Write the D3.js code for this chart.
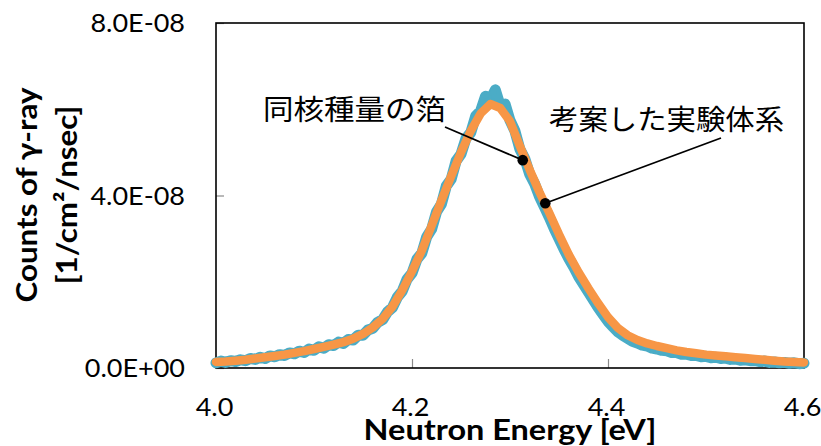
<!DOCTYPE html>
<html>
<head>
<meta charset="utf-8">
<script src="https://cdn.jsdelivr.net/npm/d3@7"></script>
<style>
  body { margin: 0; background: #fff; }
  svg { display: block; }
</style>
</head>
<body>
<script>
// y values are stored in units of 1E-08
var UNIT = 1e-8;

var xTicks = [4.0, 4.2, 4.4, 4.6];
var yTicks = [0, 4e-8, 8e-8];

// blue scatter [energy, counts]
var scatterData = [
  [4.000,0.12],[4.005,0.16],[4.010,0.13],[4.015,0.17],[4.020,0.15],[4.025,0.19],[4.030,0.17],[4.035,0.22],
  [4.040,0.20],[4.045,0.25],[4.050,0.22],[4.055,0.28],[4.060,0.26],[4.065,0.31],[4.070,0.29],[4.075,0.35],
  [4.080,0.33],[4.085,0.39],[4.090,0.36],[4.095,0.44],[4.100,0.41],[4.105,0.49],[4.110,0.46],[4.115,0.54],
  [4.120,0.52],[4.125,0.60],[4.130,0.57],[4.135,0.66],[4.140,0.65],[4.145,0.76],[4.150,0.76],[4.155,0.88],
  [4.160,0.92],[4.165,1.06],[4.170,1.12],[4.175,1.30],[4.180,1.40],[4.185,1.64],[4.190,1.78],[4.195,2.06],
  [4.200,2.20],[4.205,2.52],[4.210,2.66],[4.215,3.04],[4.220,3.22],[4.225,3.62],[4.230,3.80],[4.235,4.22],
  [4.240,4.38],[4.245,4.80],[4.250,4.96],[4.255,5.32],[4.260,5.46],[4.265,5.84],[4.270,5.96],[4.275,6.30],
  [4.280,6.22],[4.285,6.45],[4.290,6.08],[4.295,6.12],[4.300,5.74],[4.305,5.50],[4.310,5.08],[4.315,4.86],
  [4.320,4.50],[4.325,4.28],[4.330,3.98],[4.335,3.74],[4.340,3.50],[4.345,3.24],[4.350,3.00],[4.355,2.76],
  [4.360,2.54],[4.365,2.34],[4.370,2.12],[4.375,1.94],[4.380,1.76],[4.385,1.58],[4.390,1.40],[4.395,1.24],
  [4.400,1.08],[4.405,0.96],[4.410,0.84],[4.415,0.76],[4.420,0.69],[4.425,0.62],[4.430,0.58],[4.435,0.53],
  [4.440,0.51],[4.445,0.46],[4.450,0.44],[4.455,0.41],[4.460,0.40],[4.465,0.36],[4.470,0.36],[4.475,0.32],
  [4.480,0.32],[4.485,0.29],[4.490,0.29],[4.495,0.26],[4.500,0.27],[4.505,0.24],[4.510,0.25],[4.515,0.22],
  [4.520,0.23],[4.525,0.20],[4.530,0.21],[4.535,0.18],[4.540,0.19],[4.545,0.17],[4.550,0.17],[4.555,0.15],
  [4.560,0.16],[4.565,0.13],[4.570,0.14],[4.575,0.12],[4.580,0.13],[4.585,0.11],[4.590,0.12],[4.595,0.10],
  [4.600,0.11]
];

// orange curve [energy, counts]
var curveData = [
  [4.00,0.14],[4.01,0.15],[4.02,0.17],[4.03,0.19],[4.04,0.22],[4.05,0.25],[4.06,0.28],[4.07,0.31],
  [4.08,0.35],[4.09,0.39],[4.10,0.44],[4.11,0.49],[4.12,0.54],[4.13,0.60],[4.14,0.68],[4.15,0.79],
  [4.16,0.94],[4.17,1.14],[4.18,1.42],[4.19,1.80],[4.20,2.24],[4.21,2.72],[4.22,3.30],[4.23,3.88],
  [4.24,4.45],[4.25,5.00],[4.26,5.50],[4.27,5.90],[4.28,6.12],[4.29,6.03],[4.30,5.72],[4.31,5.15],
  [4.32,4.60],[4.33,4.08],[4.34,3.60],[4.35,3.10],[4.36,2.63],[4.37,2.22],[4.38,1.85],[4.39,1.50],
  [4.40,1.18],[4.41,0.93],[4.42,0.76],[4.43,0.65],[4.44,0.57],[4.45,0.51],[4.46,0.46],[4.47,0.41],
  [4.48,0.37],[4.49,0.34],[4.50,0.31],[4.51,0.29],[4.52,0.27],[4.53,0.25],[4.54,0.23],[4.55,0.21],
  [4.56,0.19],[4.57,0.17],[4.58,0.15],[4.59,0.14],[4.60,0.13]
];

// callouts: label text and the curve point it marks
var calloutText = ["同核種量の箔", "考案した実験体系"];
var calloutPoint = [[4.313, 4.82], [4.336, 3.82]];

var svgWidth = 821, svgHeight = 446;
var plot = { left: 216, right: 804, top: 23, bottom: 368 };

var latin = "Lato, 'Open Sans', sans-serif";
var cjk = "'Noto Sans CJK JP', sans-serif";

var svg = d3.select("body").append("svg")
  .attr("width", svgWidth)
  .attr("height", svgHeight);

var x = d3.scaleLinear().domain([4.0, 4.6]).range([plot.left, plot.right]);
var y = d3.scaleLinear().domain([0, 8e-8]).range([plot.bottom, plot.top]);

// "8.0E-08" style labels like Excel
function sci(v) {
  var s = v.toExponential(1).toUpperCase();
  return s.replace(/E([+-])(\d)$/, "E$10$2");
}

// axes
var xAxis = svg.append("g")
  .attr("transform", `translate(0,${plot.bottom})`)
  .call(d3.axisBottom(x).tickValues(xTicks).tickSize(-9).tickSizeOuter(0).tickFormat(d3.format(".1f")));
xAxis.select(".domain").remove();
xAxis.selectAll("line").attr("stroke", "#8a8a8a").attr("stroke-width", 1.2);
xAxis.selectAll("text")
  .attr("y", 0).attr("dy", 0)
  .attr("transform", "translate(-2,48) scale(1.08,1)")
  .style("font-family", latin).style("font-size", "25px").attr("fill", "#000");

var yAxis = svg.append("g")
  .attr("transform", `translate(${plot.left},0)`)
  .call(d3.axisLeft(y).tickValues(yTicks).tickSize(-8).tickSizeOuter(0).tickFormat(sci));
yAxis.select(".domain").remove();
yAxis.selectAll("line").attr("stroke", "#8a8a8a").attr("stroke-width", 1.2);
yAxis.selectAll("text")
  .attr("x", 0).attr("dy", "0.34em")
  .attr("transform", "translate(-31,0) scale(1.08,1)")
  .style("font-family", latin).style("font-size", "25px").attr("fill", "#000");

// plot frame
svg.append("rect")
  .attr("x", plot.left).attr("y", plot.top)
  .attr("width", plot.right - plot.left).attr("height", plot.bottom - plot.top)
  .attr("fill", "none").attr("stroke", "#000").attr("stroke-width", 1.6);

var line = d3.line()
  .x(d => x(d[0]))
  .y(d => y(d[1] * UNIT));

// blue scatter band
svg.append("path")
  .datum(scatterData)
  .attr("d", line)
  .attr("fill", "none")
  .attr("stroke", "#4bacc6")
  .attr("stroke-width", 11)
  .attr("stroke-linejoin", "round")
  .attr("stroke-linecap", "round");

svg.append("g").selectAll("path")
  .data(scatterData)
  .enter()
  .append("path")
  .attr("d", d3.symbol().type(d3.symbolCross).size(44))
  .attr("transform", d => `translate(${x(d[0])},${y(d[1] * UNIT)})`)
  .attr("fill", "#4bacc6");

// orange curve
svg.append("path")
  .datum(curveData)
  .attr("d", line)
  .attr("fill", "none")
  .attr("stroke", "#f79646")
  .attr("stroke-width", 8.5)
  .attr("stroke-linecap", "round")
  .attr("stroke-linejoin", "round");

// callouts
var calloutFrom = [[445, 127], [721, 138]];
var calloutAt = [[263, 120], [549, 130]];

calloutText.forEach(function(t, i) {
  var px = x(calloutPoint[i][0]), py = y(calloutPoint[i][1] * UNIT);
  svg.append("line")
    .attr("x1", calloutFrom[i][0]).attr("y1", calloutFrom[i][1])
    .attr("x2", px).attr("y2", py)
    .attr("stroke", "#000").attr("stroke-width", 1.8);
  svg.append("circle")
    .attr("cx", px).attr("cy", py).attr("r", 5.3)
    .attr("fill", "#000");
  svg.append("text")
    .attr("transform", `translate(${calloutAt[i][0]},${calloutAt[i][1]}) scale(${i === 0 ? 1.09 : 1.05},1)`)
    .style("font-family", cjk).style("font-size", "28px")
    .attr("fill", "#000")
    .text(t);
});

// axis titles
svg.append("text")
  .attr("transform", "translate(510,440) scale(1.12,1)")
  .attr("text-anchor", "middle")
  .style("font-family", latin).style("font-size", "29px").style("font-weight", "bold")
  .text("Neutron Energy [eV]");

var yTitle = svg.append("text")
  .attr("transform", "translate(37,195) rotate(-90) scale(1.08,1)")
  .attr("text-anchor", "middle")
  .style("font-family", latin).style("font-size", "29px").style("font-weight", "bold");
yTitle.append("tspan").attr("x", 0).attr("y", 0).text("Counts of γ-ray");
yTitle.append("tspan").attr("x", 0).attr("y", 40).text("[1/cm²/nsec]");
</script>
</body>
</html>
